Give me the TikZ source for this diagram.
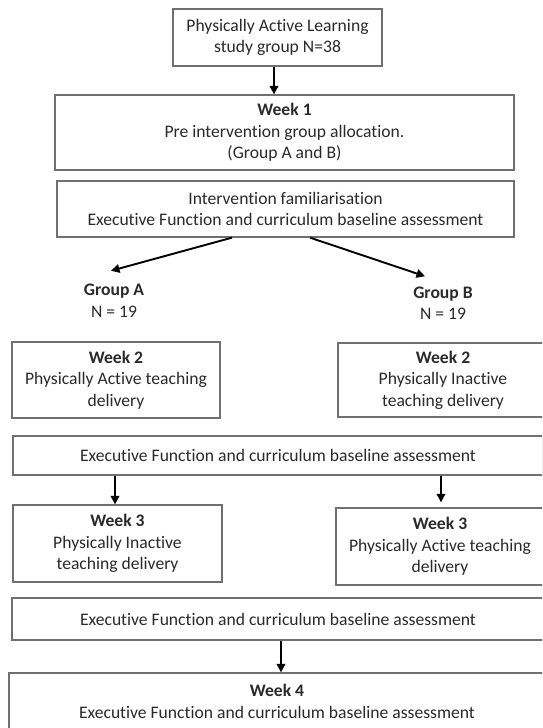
\documentclass[tikz,border=0pt]{standalone}
\usepackage{fontspec}
\setmainfont[Ligatures=NoCommon]{Carlito}
\usetikzlibrary{arrows.meta}
\definecolor{boxline}{HTML}{707070}
\definecolor{txt}{HTML}{2A2A2A}
\tikzset{
  box/.style={draw=boxline, line width=1.3pt, fill=white, align=center, text=txt,
    inner sep=0pt, font=\fontsize{17.6}{21.5}\selectfont},
  grp/.style={align=center, text=txt, inner sep=0pt, font=\fontsize{17.6}{21.5}\selectfont},
  arr/.style={draw=black, line width=1.9pt, -{Triangle[length=8.5pt,width=8.5pt]}}
}
\begin{document}
\begin{tikzpicture}[x=1pt,y=-1pt]
\useasboundingbox (0,0) rectangle (542,728);
\clip (0,0) rectangle (542,728);
\fill[white] (0,0) rectangle (542,728);

\node[box, minimum width=209pt, minimum height=57pt] (top) at (277.5,37.5)
  {Physically Active Learning\\study group N=38};
\node[box, minimum width=459pt, minimum height=75pt] (w1) at (284.5,132.5)
  {\textbf{Week 1}\\Pre intervention group allocation.\\(Group A and B)};
\node[box, minimum width=457pt, minimum height=56pt] (fam) at (285.5,209)
  {Intervention familiarisation\\Executive Function and curriculum baseline assessment};

\node[grp] (gA) at (114,300.5) {\textbf{Group A}\\N = 19};
\node[grp] (gB) at (443,303) {\textbf{Group B}\\N = 19};

\node[box, minimum width=208pt, minimum height=76pt] (w2a) at (116,380)
  {\textbf{Week 2}\\Physically Active teaching\\delivery};
\node[box, minimum width=210pt, minimum height=74pt] (w2b) at (443,380)
  {\textbf{Week 2}\\Physically Inactive\\teaching delivery};

\node[box, minimum width=530pt, minimum height=39pt] (as2) at (278,455.5)
  {Executive Function and curriculum baseline assessment};

\node[box, minimum width=209pt, minimum height=77pt] (w3a) at (117.5,543.5)
  {\textbf{Week 3}\\Physically Inactive\\teaching delivery};
\node[box, minimum width=208pt, minimum height=77pt] (w3b) at (440,546.5)
  {\textbf{Week 3}\\Physically Active teaching\\delivery};

\node[box, minimum width=532pt, minimum height=42pt] (as3) at (278,619)
  {Executive Function and curriculum baseline assessment};

\node[box, minimum width=536pt, minimum height=57pt] (w4) at (277,701.5)
  {\textbf{Week 4}\\Executive Function and curriculum baseline assessment};

% connectors
\draw[arr] ([xshift=-3.5pt]top.south) -- ([xshift=-3.5pt]top.south |- w1.north);
\draw[arr] ([xshift=-53.5pt]fam.south) -- ([xshift=-3pt,yshift=13pt]gA.north);
\draw[arr] ([xshift=24.5pt]fam.south) -- ([xshift=-18pt,yshift=10pt]gB.north);
\draw[arr] ([xshift=-2.5pt]as2.south -| w3a.north) -- ([xshift=-2.5pt]w3a.north);
\draw[arr] ([xshift=1pt]as2.south -| w3b.north) -- ([xshift=1pt,yshift=5pt]w3b.north);
\draw[arr] ([xshift=3pt]as3.south) -- ([xshift=3pt]as3.south |- w4.north);
\end{tikzpicture}
\end{document}
